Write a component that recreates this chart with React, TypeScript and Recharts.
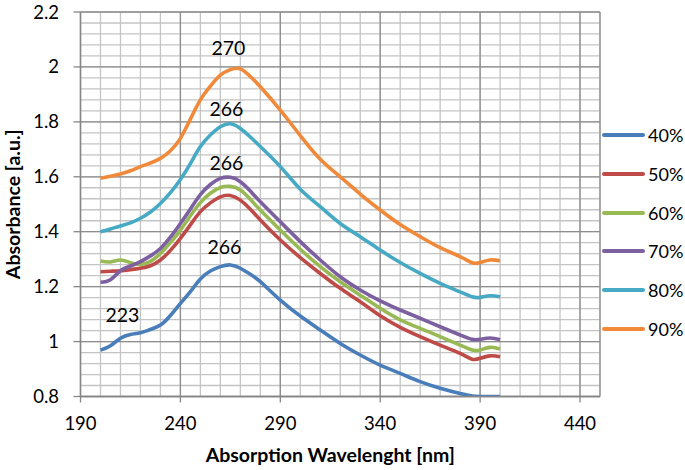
import { LineChart, Line, XAxis, YAxis, CartesianGrid, ReferenceDot } from "recharts"

const wavelengths = [200, 205, 210, 215, 220, 225, 230, 235, 240, 245, 250, 255, 260, 265, 270, 275, 280, 290, 300, 310, 320, 330, 340, 350, 360, 370, 380, 386, 390, 395, 400]

const abs40 = [0.969, 0.985, 1.012, 1.026, 1.032, 1.044, 1.06, 1.095, 1.139, 1.182, 1.228, 1.257, 1.273, 1.279, 1.267, 1.245, 1.218, 1.151, 1.093, 1.042, 0.993, 0.951, 0.914, 0.884, 0.854, 0.83, 0.811, 0.802, 0.8, 0.8, 0.8]
const abs50 = [1.254, 1.256, 1.258, 1.262, 1.267, 1.276, 1.297, 1.332, 1.376, 1.425, 1.473, 1.505, 1.527, 1.532, 1.515, 1.482, 1.443, 1.37, 1.306, 1.248, 1.194, 1.145, 1.094, 1.052, 1.018, 0.987, 0.957, 0.936, 0.939, 0.948, 0.945]
const abs60 = [1.293, 1.29, 1.297, 1.287, 1.281, 1.292, 1.321, 1.36, 1.406, 1.458, 1.506, 1.54, 1.561, 1.565, 1.552, 1.518, 1.479, 1.406, 1.336, 1.273, 1.218, 1.169, 1.121, 1.079, 1.048, 1.018, 0.987, 0.969, 0.969, 0.979, 0.973]
const abs70 = [1.216, 1.225, 1.258, 1.275, 1.291, 1.312, 1.339, 1.38, 1.43, 1.483, 1.535, 1.572, 1.594, 1.598, 1.582, 1.548, 1.509, 1.436, 1.364, 1.297, 1.236, 1.188, 1.148, 1.115, 1.085, 1.054, 1.024, 1.008, 1.008, 1.013, 1.007]
const abs80 = [1.4, 1.41, 1.421, 1.432, 1.449, 1.472, 1.503, 1.542, 1.59, 1.648, 1.71, 1.752, 1.782, 1.793, 1.776, 1.745, 1.71, 1.637, 1.555, 1.491, 1.43, 1.382, 1.333, 1.288, 1.248, 1.212, 1.181, 1.163, 1.161, 1.167, 1.163]
const abs90 = [1.595, 1.602, 1.61, 1.622, 1.637, 1.65, 1.667, 1.695, 1.74, 1.81, 1.88, 1.93, 1.97, 1.99, 1.993, 1.965, 1.928, 1.843, 1.75, 1.664, 1.6, 1.537, 1.479, 1.426, 1.382, 1.342, 1.309, 1.287, 1.288, 1.297, 1.294]

const series = [
  { key: "s40", name: "40%", values: abs40, color: "#4a7ebb" },
  { key: "s50", name: "50%", values: abs50, color: "#be4b48" },
  { key: "s60", name: "60%", values: abs60, color: "#98b954" },
  { key: "s70", name: "70%", values: abs70, color: "#7d60a0" },
  { key: "s80", name: "80%", values: abs80, color: "#46aac5" },
  { key: "s90", name: "90%", values: abs90, color: "#f08a3a" },
]

const xTicks = [190, 240, 290, 340, 390, 440]
const yTicks = [0.8, 1, 1.2, 1.4, 1.6, 1.8, 2, 2.2]

// peak labels
const peakX = [264, 263, 263, 262, 211]
const peakY = [2.07, 1.845, 1.65, 1.345, 1.095]
const peakText = ["270", "266", "266", "266", "223"]

const data = wavelengths.map((x, i) => {
  const row: Record<string, number> = { x }
  series.forEach((s) => {
    row[s.key] = s.values[i]
  })
  return row
})

const minorX = Array.from({ length: 26 }, (_, i) => 200 + i * 10)
const minorY = Array.from({ length: 36 }, (_, i) => Math.round((0.8 + i * 0.04) * 100) / 100)

const font = "Lato, 'Open Sans', sans-serif"

export default function App() {
  return (
    <div style={{ position: "absolute", left: 0, top: 0, width: 685, height: 470, background: "#fff" }}>
      <LineChart width={685} height={470} data={data} margin={{ top: 12, right: 85, bottom: 0, left: 0 }}>
        <CartesianGrid stroke="#c4c4c4" strokeWidth={1.3} xAxisId="minor" yAxisId="minor" />
        <CartesianGrid stroke="#8e8e8e" strokeWidth={1.3} />
        <XAxis xAxisId="minor" type="number" dataKey="x" domain={[190, 450]} ticks={minorX} interval={0} allowDataOverflow hide />
        <YAxis yAxisId="minor" type="number" dataKey="s90" domain={[0.8, 2.2]} ticks={minorY} interval={0} allowDataOverflow hide />
        <XAxis
          type="number"
          dataKey="x"
          domain={[190, 450]}
          ticks={xTicks}
          interval={0}
          allowDataOverflow
          stroke="#868686"
          strokeWidth={1.3}
          tickSize={6}
          tickMargin={14}
          height={73.5}
          tick={{ fill: "#000", fontSize: 18.5, fontFamily: font }}
          label={{
            value: "Absorption Wavelenght [nm]",
            position: "insideBottom",
            offset: 8,
            dx: -10,
            style: { fontFamily: font, fontSize: 19.5, fontWeight: 700, fill: "#000" },
          }}
        />
        <YAxis
          type="number"
          domain={[0.8, 2.2]}
          ticks={yTicks}
          interval={0}
          allowDataOverflow
          stroke="#868686"
          strokeWidth={1.3}
          tickSize={7}
          tickMargin={14.5}
          width={80.5}
          tick={{ fill: "#000", fontSize: 18.5, fontFamily: font }}
          label={{
            value: "Absorbance [a.u.]",
            angle: -90,
            position: "insideLeft",
            offset: 13,
            style: { fontFamily: font, fontSize: 19.5, fontWeight: 700, fill: "#000", textAnchor: "middle" },
          }}
        />
        {series.map((s) => (
          <Line
            key={s.key}
            dataKey={s.key}
            name={s.name}
            type="natural"
            stroke={s.color}
            strokeWidth={3.6}
            dot={false}
            isAnimationActive={false}
          />
        ))}
        {peakText.map((t, i) => (
          <ReferenceDot
            key={i}
            x={peakX[i]}
            y={peakY[i]}
            r={0}
            fill="none"
            stroke="none"
            label={{ value: t, position: "center", fill: "#000", fontSize: 19.5, fontFamily: font }}
          />
        ))}
      </LineChart>
      <div style={{ position: "absolute", left: 602, top: 115.6, fontFamily: font, fontSize: 18, color: "#000" }}>
        {series.map((s) => (
          <div key={s.key} style={{ display: "flex", alignItems: "center", height: 38.8 }}>
            <div style={{ width: 43, height: 4, background: s.color, borderRadius: 2, marginRight: 3 }} />
            <span>{s.name}</span>
          </div>
        ))}
      </div>
    </div>
  )
}
